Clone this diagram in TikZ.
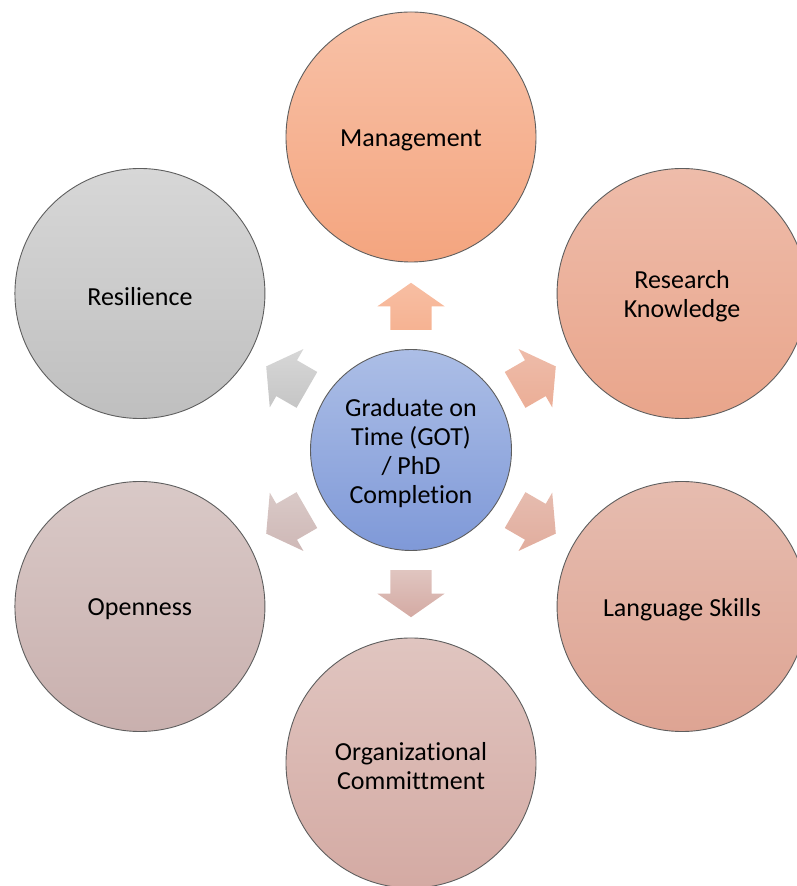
\documentclass[tikz,border=0pt]{standalone}
\usepackage{fontspec}
\setmainfont{Carlito}[Ligatures={NoCommon}]
\usetikzlibrary{calc,shapes.arrows}

% colour pairs (top / bottom) for each bubble and its arrow
\definecolor{mgmtT}{HTML}{F8C1A7}\definecolor{mgmtB}{HTML}{F4A57F}
\definecolor{resT}{HTML}{EEBCAA}\definecolor{resB}{HTML}{E9A58B}
\definecolor{langT}{HTML}{E6BCAF}\definecolor{langB}{HTML}{DEA493}
\definecolor{orgT}{HTML}{E0C5C0}\definecolor{orgB}{HTML}{D4AAA3}
\definecolor{openT}{HTML}{D9C9C7}\definecolor{openB}{HTML}{C9B0AE}
\definecolor{resiT}{HTML}{D7D7D7}\definecolor{resiB}{HTML}{BFBFBF}
\definecolor{coreT}{HTML}{ACBEE6}\definecolor{coreB}{HTML}{7F99D8}
\definecolor{rim}{HTML}{5E5E5E}

\tikzset{
  lbl/.style={align=center, text=black, inner sep=0pt, yshift=-3pt,
    font=\fontsize{26}{29}\selectfont},
  caption/.style={label={[lbl]center:#1}},
  bubble/.style={circle, draw=rim, line width=0.9pt, minimum size=250pt,
    inner sep=0pt},
  corebubble/.style={bubble, minimum size=201pt},
  blockarrow/.style={single arrow, draw=none, minimum height=47pt,
    inner xsep=0pt, inner ysep=20.5pt, single arrow head extend=13pt,
    single arrow tip angle=110, font=\tiny, anchor=tail}
}

\begin{document}
\begin{tikzpicture}[x=1pt,y=1pt]
  \useasboundingbox (0,0) rectangle (797,886);

  % central goal
  \node[corebubble, top color=coreT, bottom color=coreB,
    caption={Graduate on\\Time (GOT)\\/ PhD\\Completion}] (core) at (411,436) {};

  % surrounding factors on a hexagon
  \node[bubble, top color=mgmtT, bottom color=mgmtB, caption={Management}] (mgmt) at ($(core)+(90:313)$) {};
  \node[bubble, top color=resT, bottom color=resB, caption={Research\\Knowledge}] (res) at ($(core)+(30:313)$) {};
  \node[bubble, top color=langT, bottom color=langB, caption={Language Skills}] (lang) at ($(core)+(-30:313)$) {};
  \node[bubble, top color=orgT, bottom color=orgB, caption={Organizational\\Committment}] (org) at ($(core)+(-90:313)$) {};
  \node[bubble, top color=openT, bottom color=openB, caption={Openness}] (open) at ($(core)+(-150:313)$) {};
  \node[bubble, top color=resiT, bottom color=resiB, caption={Resilience}] (resi) at ($(core)+(150:313)$) {};

  % block arrows pointing outward, tails just outside the central bubble
  \node[blockarrow, rotate=90, top color=mgmtT!90!mgmtB, bottom color=mgmtB!85!white] (aMgmt) at ($(core)!120pt!(mgmt)$) {};
  \node[blockarrow, rotate=30, top color=resT, bottom color=resB!90!white] (aRes) at ($(core)!120pt!(res)$) {};
  \node[blockarrow, rotate=-30, top color=langT, bottom color=langB!90!white] (aLang) at ($(core)!120pt!(lang)$) {};
  \node[blockarrow, rotate=-90, top color=orgT, bottom color=orgB] (aOrg) at ($(core)!120pt!(org)$) {};
  \node[blockarrow, rotate=-150, top color=openT, bottom color=openB!90!white] (aOpen) at ($(core)!120pt!(open)$) {};
  \node[blockarrow, rotate=150, top color=resiT, bottom color=resiB!90!white] (aResi) at ($(core)!120pt!(resi)$) {};
\end{tikzpicture}
\end{document}
